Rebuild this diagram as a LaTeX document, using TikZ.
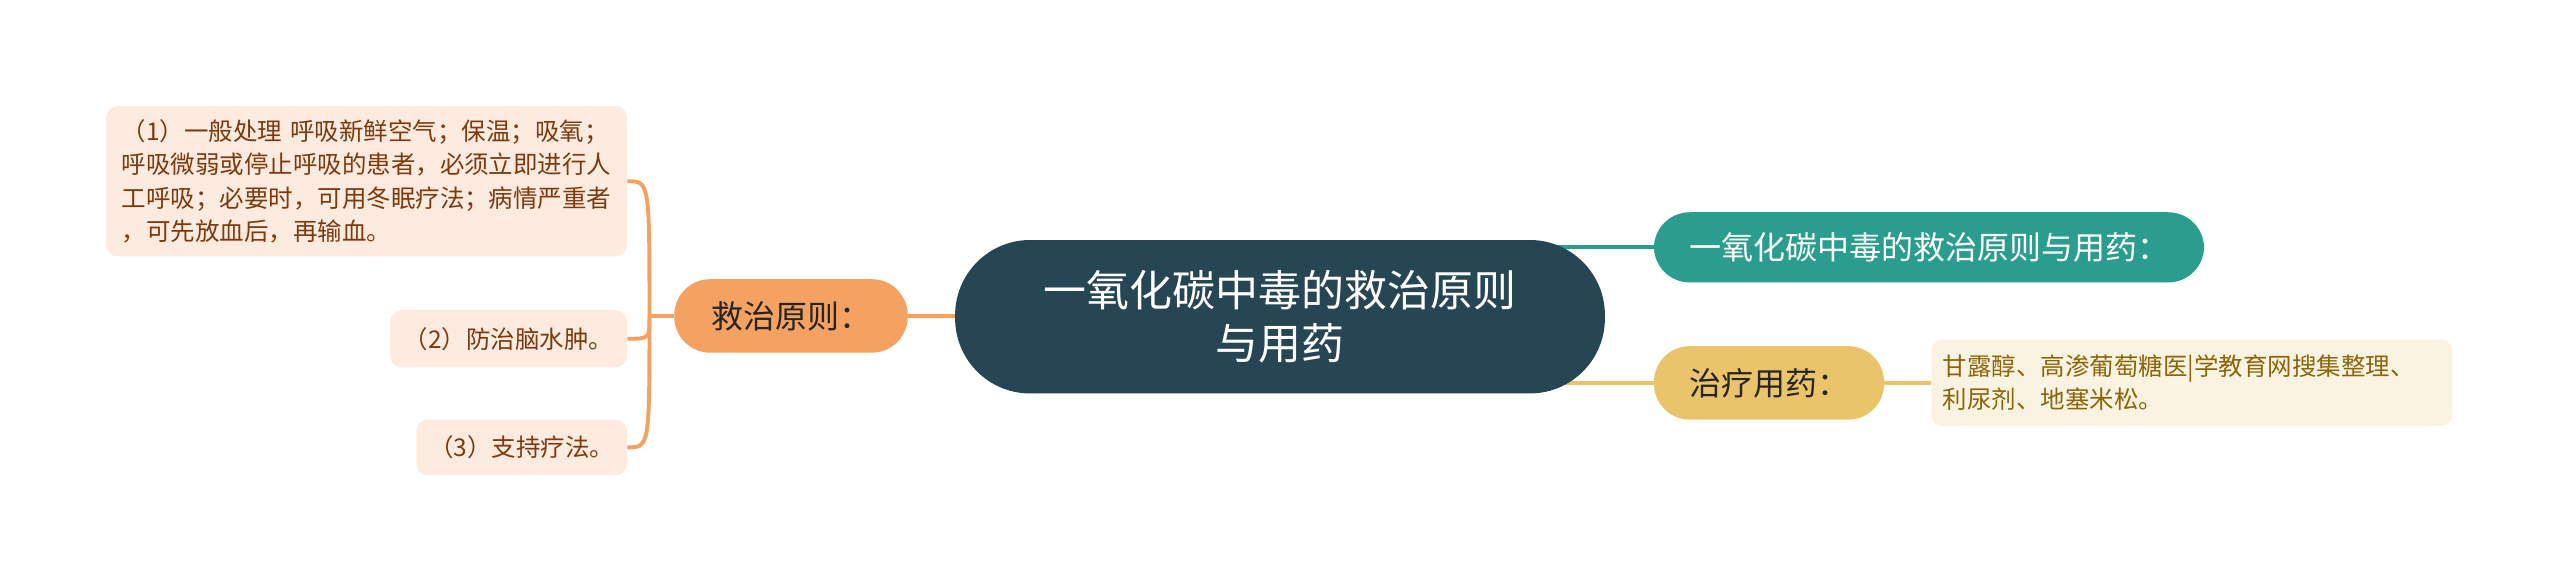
\documentclass[tikz,border=0pt]{standalone}
\usepackage{fontspec}
\newfontfamily\cjk{Noto Sans CJK SC}
\usetikzlibrary{calc,positioning}
\definecolor{MapNavy}{RGB}{38,70,83}
\definecolor{MapTeal}{RGB}{42,157,143}
\definecolor{MapOrange}{RGB}{244,162,97}
\definecolor{MapGold}{RGB}{233,196,106}
\definecolor{PeachLeaf}{RGB}{253,235,224}
\definecolor{CreamLeaf}{RGB}{251,243,226}
\definecolor{BrownText}{RGB}{125,58,14}
\definecolor{OliveText}{RGB}{139,101,8}
\definecolor{DarkText}{RGB}{40,36,32}
\pgfdeclarelayer{bg}
\pgfsetlayers{bg,main}

\begin{document}
\begin{tikzpicture}[x=1pt, y=-1pt,
	Kern/.style={fill=MapNavy, text=white, rounded corners=46pt, minimum width=398pt, minimum height=94pt, inner sep=0pt, align=center, font=\cjk\fontsize{26.3}{33}\selectfont},
	Ast/.style={rounded corners=22pt, minimum height=45pt, inner sep=0pt, font=\cjk\fontsize{19.6}{23}\selectfont},
	Blatt/.style={rounded corners=7pt, inner sep=0pt, align=left, font=\cjk\fontsize{15}{20.5}\selectfont},
	Linie/.style={line width=2.4pt}]
			\begin{pgfonlayer}{bg}
				\path[use as bounding box, fill=white] (0,0) rectangle (1568,358.3);
			\end{pgfonlayer}
			\node[Kern] (kern) at (784,194) {一氧化碳中毒的救治原则\\与用药};
			\node[Ast, fill=MapOrange, text=DarkText, minimum width=143pt] (jiuzhi) at ($(kern) - (299.5,0.5)$) {救治原则：};
			\node[Blatt, fill=PeachLeaf, text=BrownText, text width=300pt, minimum height=92pt, inner xsep=9.5pt] (blatt1) at (224.5,111) {（1）一般处理 呼吸新鲜空气；保温；吸氧；\\呼吸微弱或停止呼吸的患者，必须立即进行人\\工呼吸；必要时，可用冬眠疗法；病情严重者\\，可先放血后，再输血。};
			\node[Blatt, fill=PeachLeaf, text=BrownText, minimum width=145pt, minimum height=35pt] (blatt2) at (311.5,207.5) {（2）防治脑水肿。};
			\node[Blatt, fill=PeachLeaf, text=BrownText, minimum width=129pt, minimum height=34pt] (blatt3) at (319.5,274) {（3）支持疗法。};
			\node[Ast, fill=MapTeal, text=white, minimum width=337pt, minimum height=43pt] (teal) at (1181.5,151.5) {一氧化碳中毒的救治原则与用药：};
			\node[Ast, fill=MapGold, text=DarkText, minimum width=141pt] (zhiliao) at (1083.5,234.5) {治疗用药：};
			\node[Blatt, fill=CreamLeaf, text=OliveText, text width=305pt, minimum height=53pt, inner xsep=7pt] (yao) at (1342.5,234.5) {甘露醇、高渗葡萄糖医|学教育网搜集整理、\\利尿剂、地塞米松。};
			\begin{pgfonlayer}{bg}
				\draw[Linie, MapOrange] (kern) -- (jiuzhi);
				\coordinate (gabel) at ($(jiuzhi.west) - (15,0)$);
				\draw[Linie, MapOrange] (jiuzhi.west) -- (gabel);
				\foreach \b in {blatt1,blatt2,blatt3}
					\draw[Linie, MapOrange] (gabel) .. controls (gabel |- \b.east) .. (\b.east);
				\draw[Linie, MapTeal] ($(kern.east |- teal.west) - (40,0)$) to[out=0,in=180] (teal.west);
				\draw[Linie, MapGold] ($(kern.east |- zhiliao.west) - (40,0)$) -- (zhiliao.west);
				\draw[Linie, MapGold] (zhiliao) -- (yao);
			\end{pgfonlayer}
\end{tikzpicture}
\end{document}
